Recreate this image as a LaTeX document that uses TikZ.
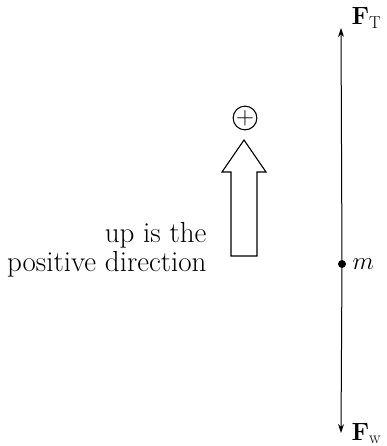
\documentclass[tikz,border=0pt]{standalone}
\usepackage{amsmath}
\usetikzlibrary{positioning, arrows.meta}

\begin{document}
\begin{tikzpicture}[x=1pt, y=-1pt, >={Stealth[length=9pt, width=6pt]}]
    \useasboundingbox (0,0) rectangle (387,446);

    % force line through the mass
    \coordinate (top) at (341,28);
    \coordinate (bottom) at (341,433);
    \node[circle, fill, inner sep=0pt, minimum size=8pt] (mass) at (342,264) {};
    \draw[->, line width=1pt] (mass) -- (top);
    \draw[->, line width=1pt] (mass) -- (bottom);

    \node[right=3pt of mass, font=\fontsize{25}{28}\selectfont] (mlabel) {$m$};
    \node[font=\fontsize{25}{28}\selectfont, anchor=base west] (FT) at (348,25) {$\mathbf{F}_{\mathrm{T}}$};
    \node[font=\fontsize{25}{28}\selectfont, anchor=base west] (Fw) at (348,440) {$\mathbf{F}_{\mathrm{w}}$};

    % block arrow: up is positive
    \draw[line width=1.1pt, line join=miter] (231,256) -- (231,172) -- (222,172) -- (244,140)
        -- (266,172) -- (257,172) -- (257,256) -- cycle;
    \node[draw, line width=1.1pt, circle, inner sep=0pt, minimum size=20pt,
          font=\fontsize{24}{28}\selectfont] (plus) at (245,118) {$+$};

    \node[align=right, anchor=base east, font=\fontsize{29}{29}\selectfont] (text) at (210,271)
        {up is the\\positive direction};
\end{tikzpicture}
\end{document}
